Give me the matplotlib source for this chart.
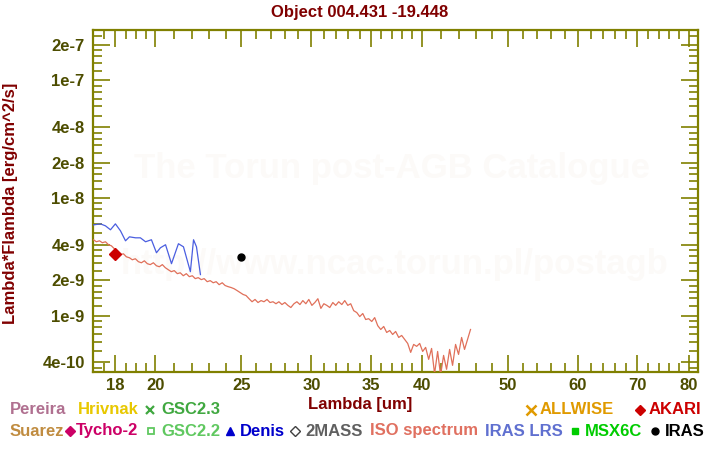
import matplotlib
matplotlib.use('Agg')
import matplotlib.pyplot as plt
from matplotlib.ticker import FixedLocator, FixedFormatter, NullFormatter
from matplotlib.lines import Line2D

plt.rcParams['font.family'] = ['Liberation Sans', 'DejaVu Sans']
plt.rcParams['font.weight'] = 'bold'

# ISO spectrum (wavelength in um, lambda*F_lambda in 1e-9 erg/cm^2/s)
iso_wave = [17.02, 17.15, 17.29, 17.42, 17.56, 17.70, 17.83, 17.97, 18.11, 18.25,
            18.40, 18.54, 18.69, 18.83, 18.98, 19.13, 19.28, 19.43, 19.58, 19.73,
            19.89, 20.05, 20.20, 20.36, 20.52, 20.68, 20.84, 21.00, 21.17, 21.33,
            21.50, 21.67, 21.84, 22.01, 22.18, 22.35, 22.53, 22.70, 22.88, 23.06,
            23.24, 23.42, 23.60, 23.79, 23.97, 24.16, 24.35, 24.54, 24.73, 24.92,
            25.12, 25.31, 25.51, 25.71, 25.91, 26.11, 26.32, 26.52, 26.73, 26.94,
            27.15, 27.36, 27.57, 27.79, 28.00, 28.22, 28.44, 28.67, 28.89, 29.12,
            29.34, 29.57, 29.80, 30.04, 30.27, 30.51, 30.75, 30.99, 31.23, 31.47,
            31.72, 31.96, 32.21, 32.47, 32.72, 32.98, 33.23, 33.49, 33.76, 34.02,
            34.29, 34.55, 34.82, 35.10, 35.37, 35.65, 35.93, 36.21, 36.49, 36.78,
            37.06, 37.35, 37.65, 37.94, 38.24, 38.54, 38.84, 39.14, 39.45, 39.76,
            40.07, 40.38, 40.70, 41.01, 41.33, 41.66, 41.98, 42.31, 42.64, 42.98,
            43.31, 43.65, 43.99, 44.34, 44.68, 45.03, 45.38]
iso_flux_e9 = [4.41, 4.24, 4.32, 4.16, 4.24, 4.00, 3.92, 3.70, 3.56, 3.29,
               3.35, 3.16, 3.10, 2.98, 3.04, 2.87, 2.81, 2.92, 2.76, 2.71,
               2.81, 2.65, 2.60, 2.71, 2.55, 2.45, 2.36, 2.41, 2.27, 2.31,
               2.18, 2.27, 2.14, 2.18, 2.06, 2.10, 2.02, 2.06, 1.94, 1.98,
               1.90, 1.94, 1.83, 1.90, 1.80, 1.76, 1.73, 1.69, 1.63, 1.57,
               1.51, 1.48, 1.39, 1.31, 1.37, 1.29, 1.34, 1.31, 1.37, 1.29,
               1.31, 1.26, 1.31, 1.24, 1.29, 1.22, 1.17, 1.26, 1.31, 1.24,
               1.34, 1.26, 1.37, 1.22, 1.29, 1.39, 1.15, 1.26, 1.22, 1.17,
               1.29, 1.22, 1.31, 1.24, 1.34, 1.22, 1.26, 1.10, 1.06, 0.98,
               1.04, 0.925, 0.94, 0.89, 0.96, 0.82, 0.761, 0.807, 0.718, 0.746,
               0.690, 0.732, 0.651, 0.677, 0.626, 0.579, 0.486, 0.568, 0.547, 0.579,
               0.495, 0.536, 0.424, 0.525, 0.32, 0.495, 0.31, 0.458, 0.349, 0.515,
               0.377, 0.568, 0.467, 0.651, 0.515, 0.626, 0.761]

# IRAS LRS spectrum
lrs_wave = [17.02, 17.33, 17.56, 17.79, 18.02, 18.26, 18.50, 18.69, 18.99, 19.23,
            19.49, 19.79, 20.05, 20.26, 20.53, 20.85, 21.23, 21.51, 21.90, 22.08,
            22.25, 22.48]
lrs_flux_e9 = [5.90, 6.02, 5.79, 5.36, 6.02, 5.25, 4.32, 4.67, 4.58, 4.58,
               4.24, 4.41, 3.42, 3.77, 4.00, 2.76, 4.08, 3.84, 2.36, 4.41,
               3.84, 2.23]

# Photometry
akari_wave = [18.0]
akari_flux_e9 = [3.35]
iras_wave = [25.0]
iras_flux_e9 = [3.15]

x_major = [18, 20, 25, 30, 35, 40, 50, 60, 70, 80]
x_major_labels = ['18', '20', '25', '30', '35', '40', '50', '60', '70', '80']
x_minor = [17.5, 18.5, 19, 19.5, 21, 22, 23, 24, 26, 27, 28, 29, 31, 32, 33, 34,
           36, 37, 38, 39, 42, 44, 46, 48, 52, 54, 56, 58, 62, 64, 66, 68,
           72, 74, 76, 78]
y_major = [2e-7, 1e-7, 4e-8, 2e-8, 1e-8, 4e-9, 2e-9, 1e-9, 4e-10]
y_major_labels = ['2e-7', '1e-7', '4e-8', '2e-8', '1e-8', '4e-9', '2e-9', '1e-9', '4e-10']
y_minor_mant = [1.2, 1.4, 1.6, 1.8, 2.4, 2.8, 3.2, 3.6, 5, 6, 7, 8, 9]
y_decades = [1e-10, 1e-9, 1e-8, 1e-7]

OLIVE = '#808000'
TICKTXT = '#4d4d00'
DARKRED = '#800000'
WATER = '#fcfaf8'

fig = plt.figure(figsize=(7.2, 4.5), dpi=100)
ax = fig.add_axes([93/720, 1-372/450, 605/720, 342/450])
ax.set_xscale('log')
ax.set_yscale('log')
ylo, yhi = 3.31e-10, 2.68e-7
ax.set_xlim(17, 82)
ax.set_ylim(ylo, yhi)
ax.set_facecolor('none')

# watermark (drawn beneath the axes content)
fig.text(392/720, 1-178/450, 'The Torun post-AGB Catalogue', fontsize=25,
         fontweight='bold', color=WATER, ha='center', va='baseline', zorder=-5)
fig.text(394/720, 1-274/450, 'http://www.ncac.torun.pl/postagb', fontsize=25,
         fontweight='bold', color=WATER, ha='center', va='baseline', zorder=-5)

ax.plot(iso_wave, [v*1e-9 for v in iso_flux_e9], color='#e0705a', lw=0.9, zorder=3)
ax.plot(lrs_wave, [v*1e-9 for v in lrs_flux_e9], color='#4a5ee0', lw=0.9, zorder=3)
ax.plot(akari_wave, [v*1e-9 for v in akari_flux_e9], 'D', color='#cc0000', ms=6, zorder=4)
ax.plot(iras_wave, [v*1e-9 for v in iras_flux_e9], 'o', color='black', ms=5, zorder=4)

for s in ax.spines.values():
    s.set_color(OLIVE)
    s.set_linewidth(1.6)

ax.xaxis.set_major_locator(FixedLocator(x_major))
ax.xaxis.set_major_formatter(FixedFormatter(x_major_labels))
ax.xaxis.set_minor_locator(FixedLocator(x_minor))
ax.xaxis.set_minor_formatter(NullFormatter())
ax.yaxis.set_major_locator(FixedLocator(y_major))
ax.yaxis.set_major_formatter(FixedFormatter(y_major_labels))
ymin_list = [m*d for d in y_decades for m in y_minor_mant if ylo < m*d < yhi]
ax.yaxis.set_minor_locator(FixedLocator(ymin_list))
ax.yaxis.set_minor_formatter(NullFormatter())

ax.tick_params(which='both', direction='in', top=True, right=True, color=OLIVE, width=1.2)
ax.tick_params(which='major', length=12)
ax.tick_params(which='minor', length=6.5)
ax.tick_params(axis='x', which='major', labelsize=12, labelcolor=TICKTXT, pad=4)
ax.tick_params(axis='y', which='major', labelsize=12, labelcolor=TICKTXT, pad=6)
for lab in ax.get_xticklabels() + ax.get_yticklabels():
    lab.set_fontweight('bold')

fig.text(360/720, 1-12/450, 'Object 004.431 -19.448', fontsize=12, fontweight='bold',
         color=DARKRED, ha='center', va='center')
fig.text(360/720, 1-404/450, 'Lambda [um]', fontsize=12, fontweight='bold',
         color=DARKRED, ha='center', va='center')
fig.text(11/720, 1-203/450, 'Lambda*Flambda [erg/cm^2/s]', fontsize=12, fontweight='bold',
         color=DARKRED, ha='center', va='center', rotation=90)

# legend-like labels
legend_items = [
    # (text, color, text_x, row, marker, marker_x, marker_kwargs)
    ('Pereira', '#b07090', 10, 1, None, None, None),
    ('Hrivnak', '#e8c800', 78, 1, None, None, None),
    ('GSC2.3', '#40a840', 161, 1, 'x', 150, dict(color='#40a840', ms=6, mew=1.6)),
    ('ALLWISE', '#e09a00', 540, 1, 'x', 531, dict(color='#e09a00', ms=7, mew=1.8)),
    ('AKARI', '#cc0000', 649, 1, 'D', 640, dict(color='#cc0000', ms=5.5)),
    ('Suarez', '#c08c40', 10, 2, None, None, None),
    ('Tycho-2', '#cc0066', 76, 2, 'D', 70, dict(color='#cc0066', ms=5)),
    ('GSC2.2', '#60c860', 161, 2, 's', 151, dict(color='#60c860', mfc='none', ms=4.5, mew=1.3)),
    ('Denis', '#0000cc', 240, 2, '^', 230, dict(color='#0000cc', ms=6)),
    ('2MASS', '#606060', 305, 2, 'D', 295, dict(color='#404040', mfc='none', ms=5, mew=1.0)),
    ('ISO spectrum', '#e07060', 370, 2, None, None, None),
    ('IRAS LRS', '#6070d0', 485, 2, None, None, None),
    ('MSX6C', '#00cc00', 585, 2, 's', 575, dict(color='#00cc00', ms=5)),
    ('IRAS', '#000000', 665, 2, 'o', 655, dict(color='black', ms=5)),
]
row_y = {1: 410, 2: 431}
for text, col, tx, row, mk, mx, mkw in legend_items:
    yy = 1 - row_y[row]/450
    fig.text(tx/720, yy, text, fontsize=12, fontweight='bold', color=col,
             ha='left', va='center')
    if mk is not None:
        fig.add_artist(Line2D([mx/720], [yy], marker=mk, linestyle='none',
                              transform=fig.transFigure, **mkw))

fig.savefig('out.png', dpi=100, facecolor='white')
